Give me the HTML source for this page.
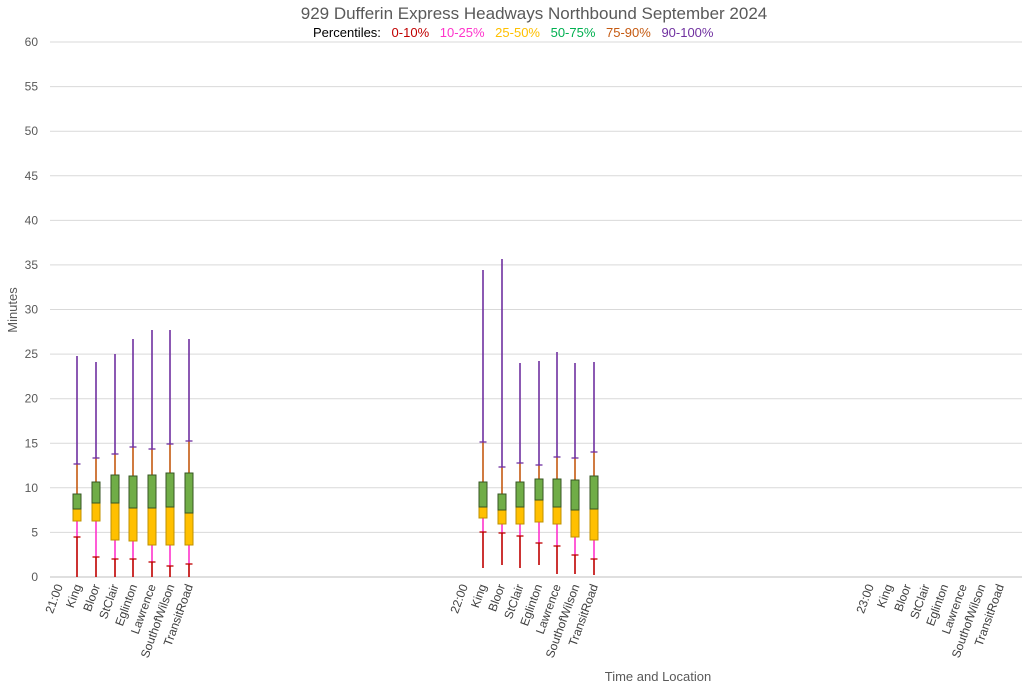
<!DOCTYPE html><html><head><style>body{margin:0;background:#fff}svg{display:block;font-family:"Liberation Sans",sans-serif}</style></head><body>
<svg width="1024" height="692" xmlns="http://www.w3.org/2000/svg">
<text x="534" y="19" font-size="17" fill="#595959" text-anchor="middle">929 Dufferin Express Headways Northbound September 2024</text>
<text y="37" font-size="13" text-anchor="start" word-spacing="7"><tspan x="313" fill="#000">Percentiles:  </tspan><tspan fill="#c00000">0-10%  </tspan><tspan fill="#ff33cc">10-25%  </tspan><tspan fill="#ffc000">25-50%  </tspan><tspan fill="#00b050">50-75%  </tspan><tspan fill="#c55a11">75-90%  </tspan><tspan fill="#7030a0">90-100%</tspan></text>
<g stroke="#d9d9d9" stroke-width="1" id="grid"></g>
<text transform="translate(17,310) rotate(-90)" font-size="13" fill="#595959" text-anchor="middle">Minutes</text>
<text x="658" y="681" font-size="13" fill="#595959" text-anchor="middle">Time and Location</text>
<g id="yl" font-size="12" fill="#595959" text-anchor="end"></g>
<g id="bx"></g>
<g id="xl" font-size="12" fill="#404040"></g>
<script>
var ns="http://www.w3.org/2000/svg";function el(p,t,a,txt){var e=document.createElementNS(ns,t);for(var k in a)e.setAttribute(k,a[k]);if(txt)e.textContent=txt;document.getElementById(p).appendChild(e);}
for(var i=0;i<=12;i++){var y=577-i*44.58;el("grid","line",{x1:50,x2:1022,y1:y.toFixed(1),y2:y.toFixed(1),stroke:i==0?"#bfbfbf":"#d9d9d9"});el("yl","text",{x:38,y:(y+4).toFixed(1)},String(i*5));}
var d=[[77,356,464,494,509,521,537,577],[96,362,458,482,503,521,557,577],[115,354,454,475,503,540,559,577],[133,339,447,476,508,541,559,577],[152,330,449,475,508,545,562,577],[170,330,444,473,507,545,566,577],[189,339,441,473,513,545,564,577],
[483,270,442,482,507,518,532,568],[502,259,467,494,510,524,533,565],[520,363,463,482,507,524,536,568],[539,361,465,479,500,522,543,565],[557,352,457,479,507,524,546,574],[575,363,458,480,510,537,555,574],[594,362,452,476,509,540,559,575]];
d.forEach(function(r){var x=r[0];
el("bx","line",{x1:x,x2:x,y1:r[1],y2:r[2],stroke:"#7030a0","stroke-width":1.6});
el("bx","line",{x1:x,x2:x,y1:r[2],y2:r[3],stroke:"#c55a11","stroke-width":1.6});
el("bx","line",{x1:x,x2:x,y1:r[5],y2:r[6],stroke:"#ff33cc","stroke-width":1.6});
el("bx","line",{x1:x,x2:x,y1:r[6],y2:r[7],stroke:"#c00000","stroke-width":1.6});
el("bx","line",{x1:x-3.5,x2:x+3.5,y1:r[2],y2:r[2],stroke:"#7030a0","stroke-width":1.3});
el("bx","line",{x1:x-3.5,x2:x+3.5,y1:r[6],y2:r[6],stroke:"#c00000","stroke-width":1.3});
el("bx","rect",{x:x-4,y:r[4],width:8,height:r[5]-r[4],fill:"#ffc000",stroke:"#bf9000","stroke-width":1});
el("bx","rect",{x:x-4,y:r[3],width:8,height:r[4]-r[3],fill:"#70ad47",stroke:"#375623","stroke-width":1});});
var L=["King","Bloor","StClair","Eglinton","Lawrence","SouthofWilson","TransitRoad"];
[[59,"21:00"],[464,"22:00"],[870,"23:00"]].forEach(function(g){var xs=[g[0]];L.forEach(function(n,i){xs.push(g[0]+18.6*(i+1));});
[g[1]].concat(L).forEach(function(n,i){el("xl","text",{transform:"translate("+(xs[i]+4)+",586) rotate(-70)","text-anchor":"end"},n);});});
</script>
</svg></body></html>
